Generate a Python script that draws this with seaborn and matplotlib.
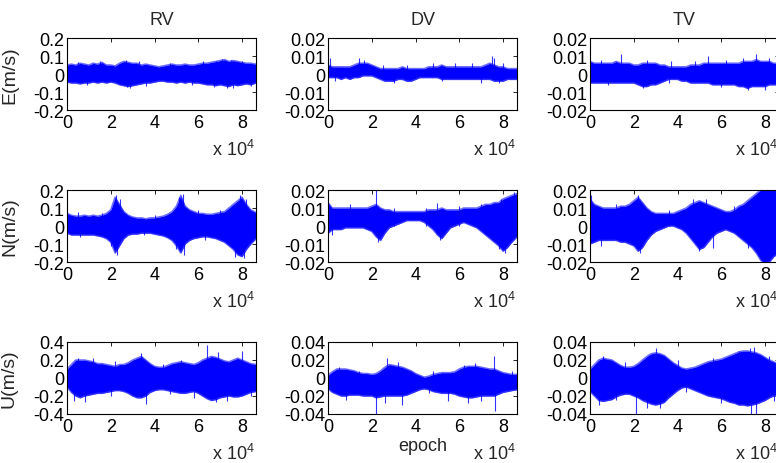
import numpy as np
import matplotlib
matplotlib.use("Agg")
import matplotlib.pyplot as plt
import seaborn as sns

# ---------------- data (envelopes and spikes) ----------------
epoch = list(range(0, 86000, 2000)) + [86400]

rv_e_hi = [0.05,0.055,0.05,0.06,0.055,0.05,0.06,0.055,0.065,0.05,0.05,0.045,0.06,0.07,0.065,0.06,0.06,0.05,0.055,0.05,0.045,0.04,0.045,0.05,0.055,0.05,0.05,0.055,0.05,0.05,0.055,0.06,0.06,0.065,0.07,0.075,0.08,0.07,0.075,0.07,0.065,0.06,0.06,0.055]
rv_e_lo = [-0.045,-0.05,-0.05,-0.055,-0.05,-0.05,-0.045,-0.05,-0.045,-0.05,-0.045,-0.05,-0.06,-0.065,-0.07,-0.065,-0.06,-0.055,-0.05,-0.05,-0.045,-0.04,-0.04,-0.045,-0.045,-0.05,-0.045,-0.05,-0.045,-0.05,-0.05,-0.055,-0.06,-0.06,-0.065,-0.06,-0.065,-0.07,-0.06,-0.065,-0.06,-0.055,-0.06,-0.05]
rv_e_spk_x = [5000, 15000, 27000, 33000, 47000, 62000, 68000, 71000, 75000, 80000,
              9000, 27500, 29000, 36000, 57000, 67000, 73000, 76000, 84000]
rv_e_spk_y = [0.065, 0.07, 0.08, 0.07, 0.06, 0.07, 0.075, 0.085, 0.08, 0.075,
              -0.06, -0.07, -0.075, -0.065, -0.06, -0.07, -0.075, -0.08, -0.065]

dv_e_hi = [0.005,0.004,0.004,0.004,0.004,0.004,0.005,0.006,0.006,0.006,0.005,0.004,0.003,0.003,0.003,0.003,0.003,0.004,0.003,0.003,0.003,0.003,0.003,0.004,0.004,0.004,0.005,0.004,0.004,0.004,0.004,0.004,0.004,0.004,0.004,0.004,0.005,0.006,0.005,0.004,0.004,0.003,0.003,0.003]
dv_e_lo = [-0.002,-0.002,-0.002,-0.003,-0.002,-0.003,-0.002,-0.002,-0.001,-0.001,-0.001,-0.002,-0.003,-0.004,-0.004,-0.004,-0.003,-0.003,-0.004,-0.004,-0.003,-0.002,-0.002,-0.002,-0.002,-0.002,-0.003,-0.003,-0.003,-0.003,-0.003,-0.003,-0.003,-0.003,-0.003,-0.003,-0.003,-0.003,-0.004,-0.004,-0.004,-0.003,-0.003,-0.003]
dv_e_spk_x = [1000, 14000, 16500, 25000, 36000, 48000, 58000, 66000, 75000, 76000, 80000,
              3000, 30000, 52000, 70000, 78000]
dv_e_spk_y = [0.009, 0.009, 0.008, 0.005, 0.005, 0.006, 0.006, 0.006, 0.01, 0.009, 0.006,
              -0.004, -0.005, -0.004, -0.005, -0.005]

tv_e_hi = [0.007,0.006,0.006,0.006,0.006,0.006,0.007,0.006,0.006,0.006,0.005,0.005,0.006,0.006,0.006,0.006,0.005,0.005,0.004,0.004,0.004,0.004,0.004,0.005,0.005,0.005,0.006,0.006,0.006,0.006,0.006,0.006,0.006,0.006,0.006,0.007,0.007,0.007,0.008,0.007,0.007,0.007,0.006,0.006]
tv_e_lo = [-0.005,-0.005,-0.005,-0.005,-0.005,-0.005,-0.005,-0.005,-0.005,-0.005,-0.005,-0.006,-0.007,-0.007,-0.006,-0.006,-0.005,-0.004,-0.003,-0.003,-0.003,-0.004,-0.004,-0.005,-0.005,-0.005,-0.005,-0.005,-0.006,-0.006,-0.006,-0.006,-0.006,-0.006,-0.007,-0.007,-0.008,-0.007,-0.007,-0.007,-0.007,-0.006,-0.006,-0.006]
tv_e_spk_x = [5000, 14000, 26000, 37000, 48000, 54000, 62000, 70000, 76000, 82000,
              8000, 24000, 36000, 60000, 72000, 80000]
tv_e_spk_y = [0.008, 0.011, 0.008, 0.007, 0.007, 0.01, 0.008, 0.009, 0.011, 0.009,
              -0.006, -0.008, -0.005, -0.007, -0.009, -0.009]

rv_n_hi = [0.07,0.06,0.055,0.055,0.06,0.055,0.06,0.055,0.06,0.07,0.09,0.16,0.12,0.08,0.06,0.05,0.045,0.045,0.04,0.045,0.045,0.05,0.055,0.065,0.08,0.11,0.17,0.11,0.09,0.08,0.07,0.07,0.065,0.065,0.07,0.075,0.08,0.1,0.12,0.14,0.16,0.12,0.09,0.075]
rv_n_lo = [-0.04,-0.05,-0.05,-0.05,-0.05,-0.05,-0.05,-0.055,-0.06,-0.07,-0.09,-0.15,-0.11,-0.07,-0.05,-0.045,-0.045,-0.04,-0.04,-0.04,-0.045,-0.05,-0.055,-0.065,-0.08,-0.11,-0.15,-0.1,-0.08,-0.07,-0.065,-0.06,-0.06,-0.065,-0.07,-0.08,-0.09,-0.11,-0.13,-0.16,-0.17,-0.13,-0.1,-0.07]
rv_n_spk_x = [5000, 16000, 22500, 24000, 40000, 51000, 53000, 60000, 70000, 79000, 82000,
              6000, 20000, 23000, 35000, 50000, 53500, 63000, 77000, 81000]
rv_n_spk_y = [0.08, 0.07, 0.17, 0.15, 0.06, 0.16, 0.18, 0.09, 0.09, 0.17, 0.15,
              -0.06, -0.11, -0.16, -0.05, -0.13, -0.16, -0.08, -0.17, -0.18]

dv_n_hi = [0.013,0.01,0.01,0.01,0.01,0.01,0.01,0.01,0.01,0.01,0.011,0.012,0.01,0.009,0.009,0.008,0.008,0.008,0.008,0.008,0.008,0.008,0.008,0.009,0.009,0.009,0.01,0.009,0.009,0.009,0.009,0.01,0.01,0.01,0.01,0.011,0.012,0.012,0.013,0.013,0.015,0.016,0.017,0.018]
dv_n_lo = [-0.004,-0.002,-0.002,-0.002,-0.001,-0.001,-0.001,-0.001,-0.001,-0.002,-0.003,-0.006,-0.008,-0.004,-0.001,0.0,0.001,0.002,0.003,0.003,0.003,0.003,0.002,0.0,-0.002,-0.005,-0.007,-0.004,-0.001,0.0,0.001,0.002,0.001,0.0,-0.001,-0.003,-0.005,-0.007,-0.009,-0.011,-0.014,-0.012,-0.009,-0.006]
dv_n_spk_x = [10000, 22000, 30000, 45000, 50000, 60000, 70000, 79000, 85000,
              2000, 23000, 51000, 78000, 81000]
dv_n_spk_y = [0.012, 0.021, 0.01, 0.01, 0.013, 0.011, 0.012, 0.015, 0.019,
              -0.005, -0.009, -0.008, -0.013, -0.015]

tv_n_hi = [0.015,0.012,0.011,0.01,0.01,0.01,0.01,0.011,0.011,0.012,0.014,0.016,0.013,0.01,0.008,0.007,0.007,0.007,0.007,0.007,0.008,0.009,0.01,0.012,0.013,0.014,0.013,0.012,0.011,0.01,0.009,0.008,0.008,0.009,0.011,0.012,0.014,0.016,0.018,0.02,0.021,0.021,0.02,0.02]
tv_n_lo = [-0.01,-0.009,-0.008,-0.008,-0.008,-0.008,-0.008,-0.009,-0.009,-0.01,-0.011,-0.014,-0.012,-0.008,-0.005,-0.003,-0.002,-0.001,0.0,0.0,-0.001,-0.002,-0.004,-0.007,-0.01,-0.013,-0.012,-0.009,-0.006,-0.004,-0.003,-0.002,-0.003,-0.004,-0.006,-0.008,-0.01,-0.012,-0.015,-0.019,-0.021,-0.02,-0.017,-0.015]
tv_n_spk_x = [500, 12000, 22000, 36000, 47000, 53000, 66000, 78000,
              5000, 23000, 50000, 56000, 72000, 79000]
tv_n_spk_y = [0.017, 0.012, 0.017, 0.009, 0.015, 0.015, 0.011, 0.021,
              -0.011, -0.015, -0.014, -0.012, -0.012, -0.021]

rv_u_hi = [0.1,0.15,0.2,0.2,0.2,0.19,0.18,0.16,0.16,0.15,0.14,0.13,0.15,0.15,0.17,0.2,0.22,0.24,0.2,0.16,0.13,0.12,0.12,0.14,0.16,0.17,0.18,0.17,0.16,0.15,0.17,0.2,0.22,0.24,0.23,0.21,0.19,0.18,0.2,0.22,0.2,0.18,0.16,0.15]
rv_u_lo = [-0.1,-0.16,-0.2,-0.22,-0.2,-0.19,-0.18,-0.17,-0.17,-0.16,-0.15,-0.14,-0.14,-0.15,-0.17,-0.2,-0.22,-0.22,-0.2,-0.16,-0.14,-0.13,-0.13,-0.14,-0.15,-0.16,-0.17,-0.17,-0.16,-0.15,-0.17,-0.2,-0.23,-0.25,-0.24,-0.22,-0.21,-0.2,-0.21,-0.21,-0.2,-0.18,-0.16,-0.15]
rv_u_spk_x = [5000, 12000, 22000, 34000, 44000, 52000, 64000, 69000, 80000,
              3000, 8000, 20000, 36000, 47000, 58000, 68000, 73000, 84000]
rv_u_spk_y = [0.22, 0.22, 0.19, 0.28, 0.16, 0.2, 0.37, 0.29, 0.3,
              -0.25, -0.27, -0.2, -0.29, -0.18, -0.22, -0.27, -0.25, -0.2]

dv_u_hi = [0.003,0.007,0.01,0.01,0.01,0.009,0.008,0.006,0.005,0.005,0.004,0.005,0.008,0.012,0.015,0.014,0.013,0.012,0.01,0.008,0.005,0.003,0.001,0.002,0.004,0.005,0.006,0.006,0.006,0.007,0.01,0.012,0.013,0.013,0.013,0.012,0.011,0.01,0.01,0.008,0.006,0.005,0.004,0.004]
dv_u_lo = [-0.012,-0.016,-0.018,-0.02,-0.02,-0.019,-0.019,-0.019,-0.02,-0.02,-0.02,-0.022,-0.021,-0.02,-0.02,-0.02,-0.02,-0.02,-0.019,-0.017,-0.015,-0.013,-0.012,-0.013,-0.015,-0.016,-0.017,-0.017,-0.017,-0.018,-0.02,-0.021,-0.022,-0.022,-0.021,-0.02,-0.02,-0.02,-0.02,-0.018,-0.016,-0.015,-0.014,-0.013]
dv_u_spk_x = [5000, 14000, 27000, 32000, 48000, 62000, 67000, 76000, 84000,
              8000, 22000, 26000, 34000, 46000, 55000, 64000, 70000, 76500]
dv_u_spk_y = [0.012, 0.008, 0.022, 0.018, 0.008, 0.015, 0.017, 0.025, 0.008,
              -0.024, -0.042, -0.028, -0.03, -0.017, -0.026, -0.028, -0.025, -0.037]

tv_u_hi = [0.01,0.015,0.02,0.022,0.021,0.02,0.017,0.014,0.012,0.012,0.013,0.016,0.02,0.024,0.027,0.028,0.027,0.025,0.021,0.017,0.014,0.011,0.01,0.011,0.012,0.014,0.016,0.018,0.019,0.02,0.021,0.023,0.025,0.027,0.029,0.03,0.03,0.029,0.028,0.026,0.023,0.02,0.018,0.015]
tv_u_lo = [-0.015,-0.02,-0.025,-0.026,-0.025,-0.024,-0.021,-0.019,-0.018,-0.018,-0.02,-0.022,-0.025,-0.027,-0.029,-0.03,-0.029,-0.027,-0.022,-0.018,-0.014,-0.011,-0.01,-0.012,-0.014,-0.016,-0.018,-0.02,-0.021,-0.022,-0.023,-0.025,-0.027,-0.028,-0.03,-0.03,-0.031,-0.03,-0.029,-0.027,-0.025,-0.022,-0.02,-0.018]
tv_u_spk_x = [6000, 16000, 27000, 30000, 40000, 56000, 68000, 73000, 75000, 82000,
              4000, 12000, 21000, 26000, 32000, 44000, 60000, 73500, 76000, 84000]
tv_u_spk_y = [0.024, 0.018, 0.026, 0.033, 0.02, 0.022, 0.03, 0.033, 0.035, 0.025,
              -0.03, -0.024, -0.04, -0.033, -0.033, -0.016, -0.028, -0.04, -0.04, -0.025]

col_titles = ["RV", "DV", "TV"]
row_labels = ["E(m/s)", "N(m/s)", "U(m/s)"]
x_ticks = [0, 20000, 40000, 60000, 80000]
x_ticklabels = ["0", "2", "4", "6", "8"]
yt_small = ["0.2", "0.1", "0", "-0.1", "-0.2"]
yt_small2 = ["0.02", "0.01", "0", "-0.01", "-0.02"]
yt_big = ["0.4", "0.2", "0", "-0.2", "-0.4"]
yt_big2 = ["0.04", "0.02", "0", "-0.02", "-0.04"]

panels = [
    [(rv_e_hi, rv_e_lo, rv_e_spk_x, rv_e_spk_y, yt_small),
     (dv_e_hi, dv_e_lo, dv_e_spk_x, dv_e_spk_y, yt_small2),
     (tv_e_hi, tv_e_lo, tv_e_spk_x, tv_e_spk_y, yt_small2)],
    [(rv_n_hi, rv_n_lo, rv_n_spk_x, rv_n_spk_y, yt_small),
     (dv_n_hi, dv_n_lo, dv_n_spk_x, dv_n_spk_y, yt_small2),
     (tv_n_hi, tv_n_lo, tv_n_spk_x, tv_n_spk_y, yt_small2)],
    [(rv_u_hi, rv_u_lo, rv_u_spk_x, rv_u_spk_y, yt_big),
     (dv_u_hi, dv_u_lo, dv_u_spk_x, dv_u_spk_y, yt_big2),
     (tv_u_hi, tv_u_lo, tv_u_spk_x, tv_u_spk_y, yt_big2)],
]

# ---------------- style ----------------
sns.set_style("white")
plt.rcParams["font.family"] = ["Liberation Sans", "DejaVu Sans"]
plt.rcParams["mathtext.default"] = "regular"
plt.rcParams["axes.unicode_minus"] = False
FS = 13
BLUE = "#0000ff"

fig = plt.figure(figsize=(7.76, 4.64), dpi=100)
W, H = 776.0, 464.0
col_left = [67, 328, 590]
row_top = [39, 191, 343]
aw, ah = 189, 72

for r in range(3):
    for c in range(3):
        hi, lo, sx, sy, ytl = panels[r][c]
        assert len(hi) == len(epoch) and len(lo) == len(epoch)
        ax = fig.add_axes([col_left[c] / W, 1 - (row_top[r] + ah) / H, aw / W, ah / H])
        ax.fill_between(epoch, lo, hi, color=BLUE, lw=0)
        sns.lineplot(x=epoch, y=hi, ax=ax, color="#3a3aff", lw=1.1, alpha=0.75)
        sns.lineplot(x=epoch, y=lo, ax=ax, color="#3a3aff", lw=1.1, alpha=0.75)
        ax.vlines(sx, 0, sy, color=BLUE, lw=0.8, alpha=0.8)
        ymax = float(ytl[0])
        ax.set_xlim(0, 86400)
        ax.set_ylim(-ymax, ymax)
        ax.set_xticks(x_ticks)
        ax.set_xticklabels(x_ticklabels)
        ax.set_yticks([float(v) for v in ytl])
        ax.set_yticklabels(ytl)
        ax.tick_params(direction="in", length=3, width=0.6, top=True, right=True,
                       labelsize=FS, pad=3, colors="black")
        ax.tick_params(axis="y", pad=2)
        for s in ax.spines.values():
            s.set_visible(True)
            s.set_color("black")
            s.set_linewidth(0.8)
        if r == 0:
            ax.set_title(col_titles[c], fontsize=FS, pad=10)
        if c == 0:
            ax.set_ylabel(row_labels[r], fontsize=14)
            ax.yaxis.set_label_coords(-49 / aw, 0.5)
        ax.annotate(r"x 10$^4$", xy=(1, 0), xycoords="axes fraction",
                    xytext=(-1, -45), textcoords="offset pixels",
                    ha="right", va="baseline", fontsize=FS)
        if r == 2 and c == 1:
            ax.annotate("epoch", xy=(0.5, 0), xycoords="axes fraction",
                        xytext=(0, -32), textcoords="offset pixels",
                        ha="center", va="center", fontsize=FS)

fig.savefig("out.png", dpi=100)
